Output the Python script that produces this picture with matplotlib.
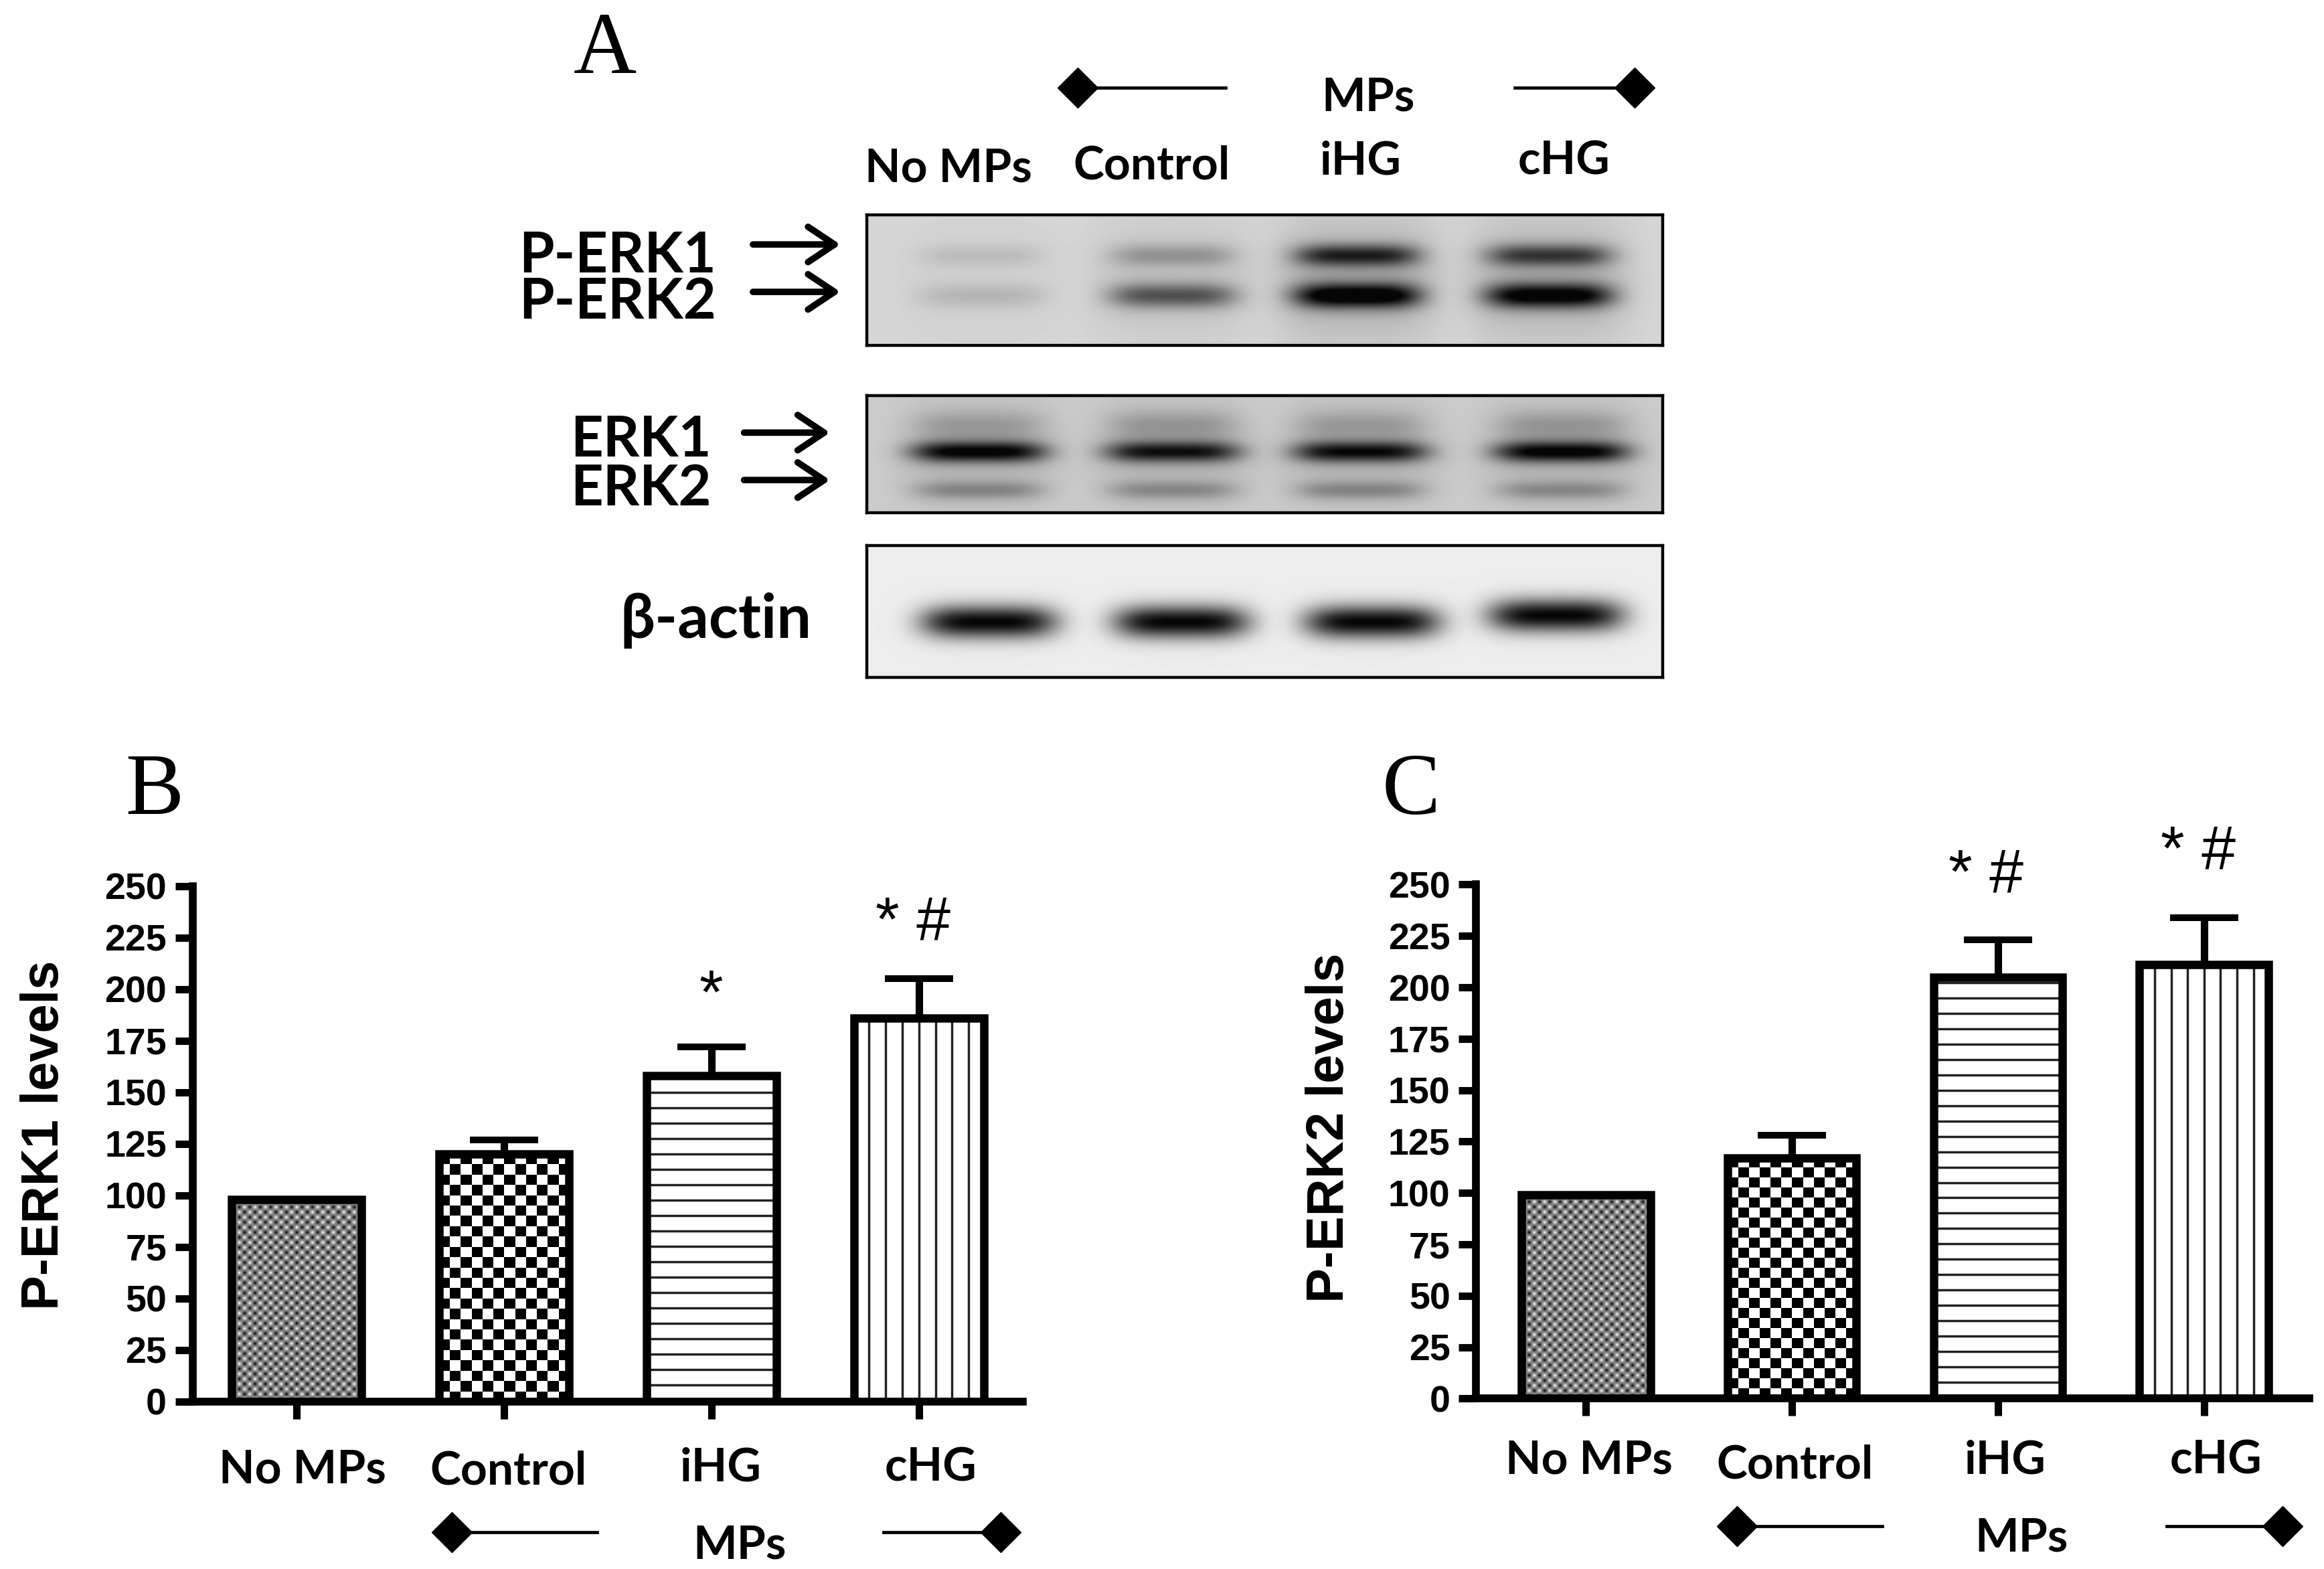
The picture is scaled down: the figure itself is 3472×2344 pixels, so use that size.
import numpy as np
import matplotlib
matplotlib.use('Agg')
import matplotlib.pyplot as plt

W, H = 1568.0, 1059.0  # layout units, same as the shrunk reference

groups = ['No MPs', 'Control', 'iHG', 'cHG']
erk1_vals = [98, 120, 158, 186]
erk1_err = [0, 7, 14, 19]
erk2_vals = [99, 117, 205, 211]
erk2_err = [0, 11, 18, 23]
yticks = list(range(0, 251, 25))

# blot band strength for each lane, read by eye
perk1_band = [0.10, 0.25, 0.72, 0.62]
perk2_band = [0.13, 0.55, 1.00, 0.95]
erk_top = [0.18, 0.20, 0.18, 0.20]
erk1_band = [0.95, 0.85, 0.88, 0.95]
erk2_band = [0.30, 0.28, 0.30, 0.28]
actin_band = [1.0, 1.0, 1.0, 1.0]
perk_lanes = [0.144, 0.384, 0.616, 0.857]
erk_lanes = [0.14, 0.384, 0.62, 0.873]
actin_lanes = [0.153, 0.395, 0.635, 0.866]
actin_shift = [0.0, 0.0, 0.0, -0.05]
perk_halo = [0.03, 0.10, 0.22, 0.20]
erk_halo = [0.12, 0.12, 0.12, 0.12]

sans = ['Lato', 'DejaVu Sans']
tickfont = 'Liberation Sans'
serif = 'Liberation Serif'

fig = plt.figure(figsize=(34.72, 23.44), dpi=100, facecolor='white')


def px_axes(x0, y0, x1, y1, **kw):
    return fig.add_axes([x0 / W, 1 - y1 / H, (x1 - x0) / W, (y1 - y0) / H], **kw)


def blot(box, lanes, bands, bg, shifts=(0, 0, 0, 0)):
    # bands: (strengths, y centre, half height, half width)
    ax = px_axes(*box)
    xx, yy = np.meshgrid(np.linspace(0, 1, 540), np.linspace(0, 1, 200))
    img = np.zeros_like(xx)
    for strength, yc, hh, hw in bands:
        for lx, s, dy in zip(lanes, strength, shifts):
            img += s * np.exp(-((xx - lx) / hw) ** 4) * np.exp(-((yy - yc - dy) / hh) ** 2)
    ax.imshow(bg - (bg - 0.02) * np.clip(img, 0, 1), cmap='gray', vmin=0, vmax=1,
              extent=(0, 1, 1, 0), aspect='auto', interpolation='bilinear')
    ax.set_xticks([])
    ax.set_yticks([])
    for s in ax.spines.values():
        s.set_linewidth(3.2)


blot((585, 145, 1122, 233), perk_lanes, [(perk_halo, 0.50, 0.45, 0.10),
                                         (perk1_band, 0.31, 0.085, 0.078),
                                         (perk2_band, 0.62, 0.095, 0.08)], 0.84)
blot((585, 267, 1122, 346), erk_lanes, [(erk_halo, 0.50, 0.45, 0.10),
                                        (erk_top, 0.25, 0.12, 0.08),
                                        (erk1_band, 0.48, 0.09, 0.085),
                                        (erk2_band, 0.81, 0.08, 0.08)], 0.80)
blot((585, 368, 1122, 457), actin_lanes, [(actin_band, 0.58, 0.125, 0.085)], 0.93, actin_shift)


def bar_panel(box, xlim, vals, errs):
    ax = px_axes(*box)
    x = np.arange(len(vals))
    ax.errorbar(x[1:], vals[1:], yerr=[[0] * 3, errs[1:]], fmt='none', ecolor='black',
                elinewidth=8, capsize=37, capthick=7.2, zorder=2)
    ax.bar(x, vals, width=0.626, facecolor='white', edgecolor='none', zorder=2.2)
    bars = ax.bar(x, vals, width=0.626, facecolor='none', edgecolor='black',
                  linewidth=9, zorder=3)

    # fine checker for No MPs, coarse checker for Control
    for b, rows, cols, interp in zip(bars[:2], [40, 24], [25, 12], ['bilinear', 'nearest']):
        chk = np.indices((rows, cols)).sum(axis=0) % 2
        ax.imshow(chk, cmap='gray', vmin=0, vmax=1, aspect='auto', zorder=2.5,
                  interpolation=interp,
                  extent=(b.get_x(), b.get_x() + b.get_width(), 0, b.get_height()))
    ax.hlines(np.arange(8, vals[2], 7.47), 2 - 0.31, 2 + 0.31, color='#222222',
              lw=2.5, zorder=2.5)
    ax.vlines(3 + np.arange(-3, 4) * 0.08, 0, vals[3], color='#222222', lw=2.5, zorder=2.5)

    ax.set_xlim(*xlim)
    ax.set_ylim(0, 250)
    ax.set_xticks(x)
    ax.set_xticklabels([])
    ax.set_yticks(yticks)
    ax.set_yticklabels([str(t) for t in yticks], family=tickfont, weight='bold', fontsize=40)
    ax.tick_params(width=8, length=19, pad=9)
    ax.spines['top'].set_visible(False)
    ax.spines['right'].set_visible(False)
    ax.spines['left'].set_linewidth(8.4)
    ax.spines['bottom'].set_linewidth(8.4)
    ax.patch.set_alpha(0)
    return ax


bar_panel((130, 598, 690, 946), (-0.5, 3.5), erk1_vals, erk1_err)
bar_panel((996, 597, 1558, 944), (-0.532, 3.51), erk2_vals, erk2_err)

# annotation layer in layout units
top = fig.add_axes([0, 0, 1, 1], zorder=10)
top.set_xlim(0, W)
top.set_ylim(H, 0)
top.axis('off')


def label(x, y, s, size=50, **kw):
    kw.setdefault('family', sans)
    kw.setdefault('weight', 'bold')
    top.text(x, y, s, fontsize=size, ha=kw.pop('ha', 'center'), va='center', **kw)


def mps_bracket(x0, x1, x2, x3, y, tx, ty):
    top.plot([x0, x1], [y, y], color='black', lw=3.4)
    top.plot([x2, x3], [y, y], color='black', lw=3.4)
    top.plot([x0, x3], [y, y], ls='none', marker='D', ms=31, color='black')
    label(tx, ty, 'MPs')


def arrow(x0, x1, y):
    top.annotate('', xy=(x1, y), xytext=(x0, y),
                 arrowprops=dict(arrowstyle='->,head_length=0.75,head_width=0.5', lw=7,
                                 color='black', shrinkA=0, shrinkB=0, mutation_scale=38))


for s, x, y in [('A', 408, 35), ('B', 104, 535), ('C', 952, 535)]:
    label(x, y, s, size=94, family=serif, weight='normal')

mps_bracket(727, 827, 1022, 1103, 59, 923, 66)
mps_bracket(305, 403, 596, 675, 1034, 499, 1043)
mps_bracket(1172, 1270, 1462, 1540, 1030, 1364, 1038)

for s, x, y in zip(groups, [640, 777, 918, 1055], [114, 112, 109, 109]):
    label(x, y, s)
for s, x, y in zip(groups, [204, 343, 486, 628], [992, 993, 991, 991]):
    label(x, y, s)
for s, x, y in zip(groups, [1072, 1211, 1353, 1495], [986, 989, 986, 986]):
    label(x, y, s)

label(483, 173, 'P-ERK1', size=61, ha='right')
label(483, 204, 'P-ERK2', size=61, ha='right')
label(480, 297, 'ERK1', size=61, ha='right')
label(480, 330, 'ERK2', size=61, ha='right')
label(483, 419, 'β-actin', size=66)
arrow(508, 567, 165)
arrow(508, 567, 197)
arrow(502, 560, 292)
arrow(502, 560, 324)

label(30, 766, 'P-ERK1 levels', size=56, rotation=90, family='Liberation Sans')
label(897, 761, 'P-ERK2 levels', size=56, rotation=90, family='Liberation Sans')

for s, x, y in [('*', 480, 673), ('* #', 616, 624), ('* #', 1340, 592), ('* #', 1483, 576)]:
    label(x, y, s, size=66, family='Liberation Sans', weight='normal')

fig.savefig('out.png', dpi=100)
